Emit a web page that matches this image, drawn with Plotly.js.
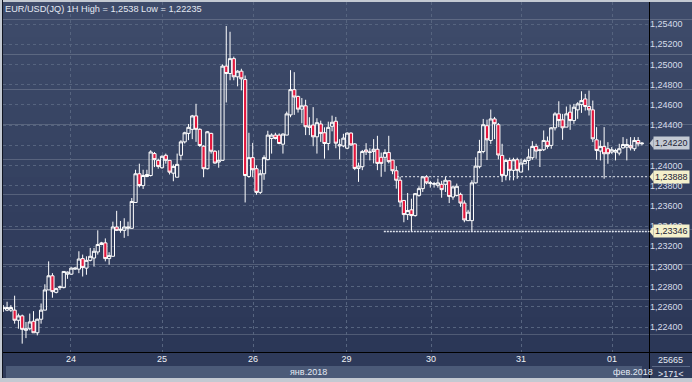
<!DOCTYPE html>
<html><head><meta charset="utf-8">
<script src="https://cdn.plot.ly/plotly-3.0.1.min.js"></script>
<style>html,body{margin:0;padding:0;background:#c3c9d2;overflow:hidden}#chart{width:692px;height:382px;}</style>
</head><body><div id="chart"></div>
<script>
// ---- data (EUR/USD 1H candles) ----
const openP=[1.22583,1.22567,1.22567,1.22567,1.22467,1.22510,1.22367,1.22383,1.22457,1.22343,
1.22477,1.22567,1.22767,1.22907,1.22743,1.22790,1.22790,1.22923,1.22923,1.22973,
1.22973,1.23077,1.22983,1.23060,1.23083,1.23143,1.23217,1.23233,1.23077,1.23100,
1.23390,1.23357,1.23357,1.23377,1.23377,1.23633,1.23917,1.23800,1.23890,1.23900,
1.24117,1.24050,1.23977,1.24100,1.24050,1.23923,1.23883,1.24100,1.24233,1.24317,
1.24357,1.24490,1.24357,1.24190,1.23967,1.24317,1.24140,1.24033,1.24050,1.24983,
1.24910,1.25057,1.24877,1.24933,1.24850,1.23890,1.24077,1.23967,1.23733,1.23917,
1.24057,1.24267,1.24300,1.24300,1.24210,1.24300,1.24500,1.24750,1.24683,1.24557,
1.24590,1.24390,1.24400,1.24283,1.24410,1.24323,1.24217,1.24387,1.24437,1.24193,
1.24193,1.24170,1.24320,1.24213,1.23970,1.23987,1.24153,1.24133,1.24137,1.24160,
1.24080,1.24080,1.24127,1.24053,1.23947,1.23853,1.23653,1.23513,1.23560,1.23503,
1.23703,1.23770,1.23887,1.23820,1.23813,1.23803,1.23813,1.23813,1.23847,1.23687,
1.23703,1.23713,1.23627,1.23453,1.23453,1.23827,1.23987,1.24137,1.24393,1.24247,
1.24460,1.24403,1.24099,1.23901,1.24049,1.23951,1.24056,1.23934,1.24016,1.24049,
1.24076,1.24188,1.24155,1.24155,1.24240,1.24198,1.24372,1.24510,1.24451,1.24379,
1.24527,1.24444,1.24550,1.24602,1.24658,1.24583,1.24550,1.24253,1.24142,1.24188,
1.24165,1.24132,1.24132,1.24122,1.24174,1.24181,1.24198,1.24165,1.24247,1.24214];
const highP=[1.22617,1.22650,1.22617,1.22710,1.22533,1.22523,1.22450,1.22533,1.22557,1.22483,
1.22633,1.22823,1.23050,1.22933,1.22790,1.22810,1.22950,1.22950,1.22990,1.22990,
1.23150,1.23117,1.23100,1.23183,1.23183,1.23357,1.23243,1.23277,1.23140,1.23443,
1.23550,1.23450,1.23477,1.23443,1.23677,1.23957,1.24017,1.23957,1.23957,1.24150,
1.24133,1.24067,1.24100,1.24117,1.24050,1.24010,1.24117,1.24250,1.24333,1.24410,
1.24500,1.24610,1.24367,1.24200,1.24340,1.24323,1.24150,1.24150,1.25000,1.25380,
1.25323,1.25077,1.24943,1.24957,1.24890,1.24323,1.24223,1.24000,1.23957,1.24100,
1.24343,1.24317,1.24323,1.24317,1.24317,1.24533,1.24943,1.24923,1.24690,1.24667,
1.24650,1.24477,1.24577,1.24467,1.24443,1.24377,1.24433,1.24493,1.24480,1.24260,
1.24313,1.24327,1.24327,1.24220,1.24027,1.24153,1.24220,1.24170,1.24260,1.24293,
1.24127,1.24160,1.24293,1.24053,1.23993,1.23887,1.23653,1.23727,1.23670,1.23727,
1.23793,1.23893,1.23903,1.23847,1.23837,1.23870,1.23847,1.23887,1.23853,1.23800,
1.23820,1.23730,1.23653,1.23560,1.23853,1.24080,1.24253,1.24460,1.24453,1.24553,
1.24480,1.24420,1.24214,1.24066,1.24076,1.24076,1.24076,1.24066,1.24066,1.24165,
1.24240,1.24214,1.24165,1.24346,1.24286,1.24379,1.24527,1.24635,1.24510,1.24583,
1.24602,1.24609,1.24626,1.24734,1.24708,1.24741,1.24642,1.24379,1.24247,1.24379,
1.24230,1.24181,1.24165,1.24214,1.24280,1.24263,1.24280,1.24280,1.24280,1.24230];
const lowP=[1.22550,1.22557,1.22550,1.22433,1.22383,1.22235,1.22290,1.22367,1.22343,1.22317,
1.22433,1.22567,1.22767,1.22690,1.22733,1.22767,1.22783,1.22877,1.22917,1.22967,
1.22933,1.22900,1.22917,1.23050,1.23000,1.23117,1.23210,1.23050,1.23017,1.23100,
1.23350,1.23333,1.23283,1.23300,1.23377,1.23633,1.23783,1.23767,1.23883,1.23890,
1.23983,1.23967,1.23967,1.24017,1.23910,1.23843,1.23883,1.24050,1.24217,1.24250,
1.24260,1.24233,1.24183,1.23883,1.23960,1.24117,1.24017,1.23977,1.24050,1.24623,
1.24843,1.24843,1.24783,1.24743,1.23633,1.23877,1.23883,1.23710,1.23717,1.23857,
1.24050,1.24117,1.24257,1.24210,1.24117,1.24300,1.24477,1.24500,1.24523,1.24417,
1.24300,1.24300,1.24190,1.24117,1.24233,1.24067,1.24150,1.24337,1.24170,1.24060,
1.24180,1.24160,1.24193,1.23953,1.23837,1.23953,1.24103,1.24050,1.24020,1.23953,
1.23887,1.23937,1.24020,1.23913,1.23770,1.23587,1.23437,1.23460,1.23350,1.23493,
1.23690,1.23737,1.23813,1.23780,1.23780,1.23780,1.23680,1.23737,1.23627,1.23660,
1.23693,1.23590,1.23437,1.23450,1.23346,1.23820,1.23970,1.24120,1.24053,1.24213,
1.24260,1.24060,1.23835,1.23852,1.23852,1.23852,1.23868,1.23934,1.24016,1.23951,
1.24056,1.24066,1.23984,1.24142,1.24165,1.24165,1.24346,1.24379,1.24253,1.24379,
1.24352,1.24412,1.24461,1.24520,1.24543,1.24494,1.24230,1.24056,1.24049,1.23868,
1.24016,1.24115,1.24049,1.24099,1.24165,1.24049,1.24148,1.24142,1.24188,1.24198];
const closeP=[1.22590,1.22593,1.22593,1.22467,1.22510,1.22377,1.22383,1.22450,1.22343,1.22477,
1.22567,1.22767,1.22907,1.22750,1.22780,1.22797,1.22950,1.22943,1.22983,1.22983,
1.23073,1.22990,1.23060,1.23100,1.23150,1.23217,1.23233,1.23077,1.23107,1.23390,
1.23357,1.23367,1.23390,1.23390,1.23643,1.23917,1.23800,1.23900,1.23910,1.24133,
1.24057,1.23990,1.24090,1.24050,1.23933,1.23990,1.24010,1.24233,1.24323,1.24377,
1.24490,1.24357,1.24197,1.23967,1.24333,1.24140,1.24023,1.24050,1.24983,1.24910,
1.25057,1.24877,1.24933,1.24857,1.23900,1.24077,1.23957,1.23733,1.23917,1.24077,
1.24300,1.24300,1.24267,1.24217,1.24310,1.24510,1.24750,1.24677,1.24557,1.24590,
1.24383,1.24377,1.24283,1.24423,1.24317,1.24217,1.24377,1.24427,1.24220,1.24203,
1.24270,1.24320,1.24203,1.23970,1.23993,1.24137,1.24133,1.24130,1.24160,1.24020,
1.24020,1.24127,1.24037,1.23947,1.23853,1.23637,1.23513,1.23553,1.23503,1.23720,
1.23770,1.23887,1.23827,1.23827,1.23820,1.23827,1.23760,1.23853,1.23693,1.23787,
1.23793,1.23627,1.23460,1.23537,1.23827,1.23993,1.24137,1.24403,1.24253,1.24460,
1.24413,1.24103,1.23901,1.24049,1.23951,1.24056,1.23951,1.24023,1.24049,1.24083,
1.24188,1.24142,1.24148,1.24247,1.24188,1.24372,1.24510,1.24444,1.24372,1.24510,
1.24444,1.24576,1.24609,1.24642,1.24583,1.24550,1.24263,1.24148,1.24188,1.24115,
1.24115,1.24155,1.24148,1.24165,1.24207,1.24207,1.24174,1.24247,1.24214,1.24220];
const dayLabels=['24','25','26','29','30','31','01'];
const dayTickPos=[17.9,42.0,66.1,90.8,113.2,137.0,161.1];
const monthLabels=['янв.2018','фев.2018'];
const yTicks=[1.224,1.226,1.228,1.230,1.232,1.234,1.236,1.238,1.240,1.242,1.244,1.246,1.248,1.250,1.252,1.254];
// the 1,24200 label is fully hidden behind the last-price marker in the reference
const yTickLabels=['1,22400','1,22600','1,22800','1,23000','1,23200','1,23400','1,23600','1,23800','1,24000','','1,24400','1,24600','1,24800','1,25000','1,25200','1,25400'];
const levelValues=[1.23888,1.23346];
const levelStart=[104.2,100.7];
const titleText='EUR/USD(JQ) 1H High = 1,2538 Low = 1,22235';
const volumeText='25665', barsText='>171<';

// ---- layout helpers (pixel -> paper) ----
const W=692,H=382,L=3,R=43,T=2,B=30;
const pw=W-L-R, ph=H-T-B;
const px=x=>(x-L)/pw, py=y=>(H-B-y)/ph;
const idx=openP.map((_,i)=>i);
const xRange=[-0.08,170.87];
const yRange=[1.221525,1.256178];
const fam='Liberation Sans, Arial, sans-serif';
const fmt=v=>v.toFixed(5).replace('.',',');

const shapes=[];
const topC=[62,75,106], botC=[43,55,87], NB=20;
for(let i=0;i<NB;i++){
  const t=i/(NB-1);
  const c=topC.map((a,k)=>Math.round(a+(botC[k]-a)*t));
  shapes.push({type:'rect',xref:'paper',yref:'paper',layer:'below',
    x0:px(3),x1:px(692),y0:py(2+350*(i+1)/NB),y1:py(2+350*i/NB),
    fillcolor:'rgb('+c.join(',')+')',line:{width:0}});
}
shapes.push({type:'rect',xref:'paper',yref:'paper',layer:'below',x0:px(3),x1:px(692),y0:py(378),y1:py(352),fillcolor:'#2e3a5a',line:{width:0}});
shapes.push({type:'rect',xref:'paper',yref:'paper',layer:'below',x0:px(6),x1:px(649),y0:py(378),y1:py(366),fillcolor:'#4b5a78',line:{width:0}});
shapes.push({type:'rect',xref:'paper',yref:'paper',layer:'below',x0:px(642),x1:px(649),y0:py(378),y1:py(366),fillcolor:'#2f3b5b',line:{width:0}});
shapes.push({type:'line',xref:'paper',yref:'paper',layer:'below',x0:px(652),x1:px(690),y0:py(366.5),y1:py(366.5),line:{color:'#5b6987',width:1}});
shapes.push({type:'line',xref:'paper',yref:'paper',layer:'above',x0:px(649.5),x1:px(649.5),y0:py(378),y1:py(2),line:{color:'#000000',width:1}});
shapes.push({type:'line',xref:'paper',yref:'paper',layer:'above',x0:px(3),x1:px(692),y0:py(352.5),y1:py(352.5),line:{color:'#000000',width:1}});
shapes.push({type:'line',xref:'paper',yref:'paper',layer:'above',x0:px(2.5),x1:px(2.5),y0:py(378),y1:py(0),line:{color:'#101522',width:1}});
shapes.push({type:'line',xref:'x',yref:'y',layer:'above',x0:levelStart[0],x1:xRange[1],y0:levelValues[0],y1:levelValues[0],line:{color:'#e8ecf3',width:1,dash:'2px,2px'}});
shapes.push({type:'line',xref:'x',yref:'y',layer:'above',x0:levelStart[1],x1:xRange[1],y0:levelValues[1],y1:levelValues[1],line:{color:'#dfe4ee',width:1.6,dash:'2px,1px'}});

const lastClose=closeP[closeP.length-1];
const ann=[];
ann.push({xref:'paper',yref:'paper',x:px(3),y:py(1.5),xanchor:'left',yanchor:'top',showarrow:false,text:titleText,font:{family:fam,size:9.2,color:'#e4e9f2'}});
ann.push({xref:'paper',yref:'paper',x:px(329),y:py(372),xanchor:'right',yanchor:'middle',showarrow:false,text:monthLabels[0],font:{family:fam,size:9,color:'#e4e9f2'}});
ann.push({xref:'paper',yref:'paper',x:px(611),y:py(372),xanchor:'left',yanchor:'middle',showarrow:false,text:monthLabels[1],font:{family:fam,size:9,color:'#e4e9f2'}});
ann.push({xref:'paper',yref:'paper',x:px(670.5),y:py(360),xanchor:'center',yanchor:'middle',showarrow:false,text:volumeText,font:{family:fam,size:9,color:'#e4e9f2'}});
ann.push({xref:'paper',yref:'paper',x:px(670.5),y:py(373.5),xanchor:'center',yanchor:'middle',showarrow:false,text:barsText.replace('<','&lt;').replace('>','&gt;'),font:{family:fam,size:9,color:'#e4e9f2'}});
const boxes=[[lastClose,'#c3c9d3'],[levelValues[0],'#f4f0cc'],[levelValues[1],'#f4f0cc']];
boxes.forEach(([v,bg])=>{
  ann.push({xref:'paper',yref:'y',x:px(653),y:v,xanchor:'left',yanchor:'middle',showarrow:false,text:fmt(v),
    bgcolor:bg,borderpad:1,font:{family:fam,size:9,color:'#1b2236'}});
  const d=5/10100;
  shapes.push({type:'path',xref:'paper',yref:'y',layer:'above',
    path:'M '+px(649.5)+' '+v+' L '+px(653.5)+' '+(v+d)+' L '+px(653.5)+' '+(v-d)+' Z',fillcolor:bg,line:{width:0}});
});

const trace={type:'candlestick',x:idx,open:openP,high:highP,low:lowP,close:closeP,
  increasing:{line:{color:'#ffffff',width:1},fillcolor:'rgba(0,0,0,0)'},
  decreasing:{line:{color:'#ffffff',width:1},fillcolor:'#e3173d'},
  whiskerwidth:0,hoverinfo:'skip'};

const layout={width:W,height:H,margin:{l:L,r:R,t:T,b:B,pad:0},
  paper_bgcolor:'#c3c9d2',plot_bgcolor:'rgba(0,0,0,0)',showlegend:false,
  separators:', ',boxgap:0.15,boxgroupgap:0,
  xaxis:{range:xRange,rangeslider:{visible:false},tickmode:'array',tickvals:dayTickPos,ticktext:dayLabels,
    showgrid:true,gridcolor:'#56647f',griddash:'3px,3px',gridwidth:1,zeroline:false,showline:false,ticks:'',
    tickfont:{family:fam,size:9,color:'#eef1f6'},fixedrange:true},
  yaxis:{range:yRange,side:'right',tickmode:'array',tickvals:yTicks,ticktext:yTickLabels,
    showgrid:true,gridcolor:'#56647f',griddash:'3px,3px',gridwidth:1,zeroline:false,showline:false,ticks:'',
    tickfont:{family:fam,size:9,color:'#d6ddea'},fixedrange:true},
  shapes:shapes,annotations:ann};
Plotly.newPlot('chart',[trace],layout,{displayModeBar:false,staticPlot:true});
</script></body></html>
